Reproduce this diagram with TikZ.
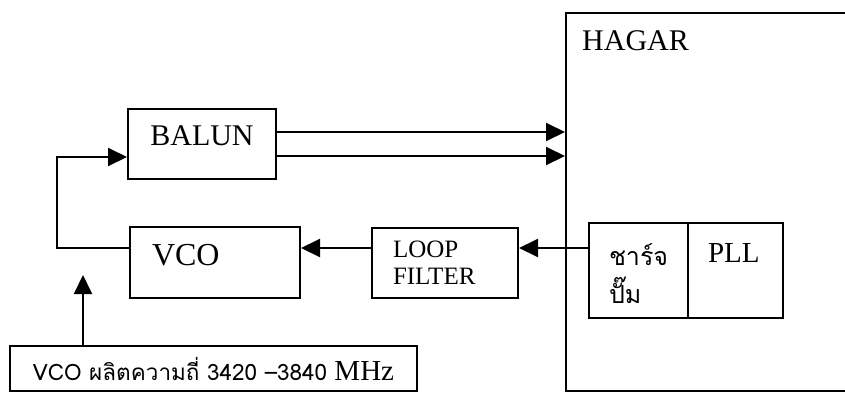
\documentclass[tikz,border=0pt]{standalone}
\usepackage{fontspec}
\setmainfont{Liberation Serif}
\newfontfamily\thaifont[Script=Thai]{Loma}
\usetikzlibrary{arrows.meta, positioning, calc}

\begin{document}
\begin{tikzpicture}[
    x=1pt, y=-1pt,
    % กล่องพื้นฐาน
    block/.style={draw, line width=2pt, inner sep=0pt, font=\fontsize{30}{32}\selectfont},
    % ข้อความชิดซ้ายในกล่อง
    lefttext/.style={align=left, text width=#1},
    % ยกข้อความขึ้นจากกึ่งกลาง
    raised/.style={text depth=#1},
    % เส้นสัญญาณมีหัวลูกศร
    sig/.style={draw, line width=2pt, -{Triangle[length=19pt, width=18pt]}}
]
\useasboundingbox (0,0) rectangle (845,394);
\clip (0,0) rectangle (845,394);

% ชิป HAGAR
\node[block, anchor=north west, minimum width=300, minimum height=378] (hagar) at (565,12) {};
\node[anchor=base west, font=\fontsize{30}{32}\selectfont, inner sep=0pt] (hagarlbl) at (582,50) {HAGAR};

% ชาร์จปั๊ม และ PLL ภายในชิป
\node[block, minimum width=99, minimum height=95, inner xsep=20pt, lefttext=59, font=\thaifont\fontsize{25}{38}\selectfont, raised=32pt] (cp) at (638.5,270.5) {ชาร์จ\\ปั๊ม};
\node[block, minimum width=95, minimum height=95, inner xsep=20pt, lefttext=55, font=\fontsize{29}{31}\selectfont, raised=36pt] (pll) at (735.5,270.5) {PLL};

% บล็อกภายนอก
\node[block, minimum width=148, minimum height=70, raised=16pt] (balun) at (202,144) {BALUN};
\node[block, minimum width=170, minimum height=71, inner xsep=22pt, lefttext=126, font=\fontsize{32}{34}\selectfont, raised=15pt] (vco) at (215,262.5) {VCO};
\node[block, minimum width=146, minimum height=70, inner xsep=21pt, lefttext=104, font=\fontsize{25}{27}\selectfont] (loop) at (445,263) {LOOP\\FILTER};
\node[block, minimum width=407, minimum height=45, font=\fontsize{29}{31}\selectfont] (note) at (213.5,368.5) {{\thaifont\fontsize{22.5}{25}\selectfont VCO ผลิตความถี่ 3420 –3840} MHz};

% จุดอ้างอิงของเส้น
\coordinate (outa) at ([yshift=12pt]balun.east);
\coordinate (outb) at ([yshift=-12pt]balun.east);
\coordinate (fb) at ([yshift=22.5pt]cp.west);
\coordinate (tip) at (83,275);

% เส้นเชื่อม
\draw[sig] (outa) -- (outa -| hagar.west);
\draw[sig] (outb) -- (outb -| hagar.west);
\draw[sig] (fb) -- (fb -| loop.east);
\draw[sig] (loop.west |- fb) -- (vco.east |- fb);
\draw[sig] (vco.west |- fb) -- ++(-72,0) |- ([yshift=-13pt]balun.west);
\draw[sig] (tip |- note.north) -- (tip);

\end{tikzpicture}
\end{document}
